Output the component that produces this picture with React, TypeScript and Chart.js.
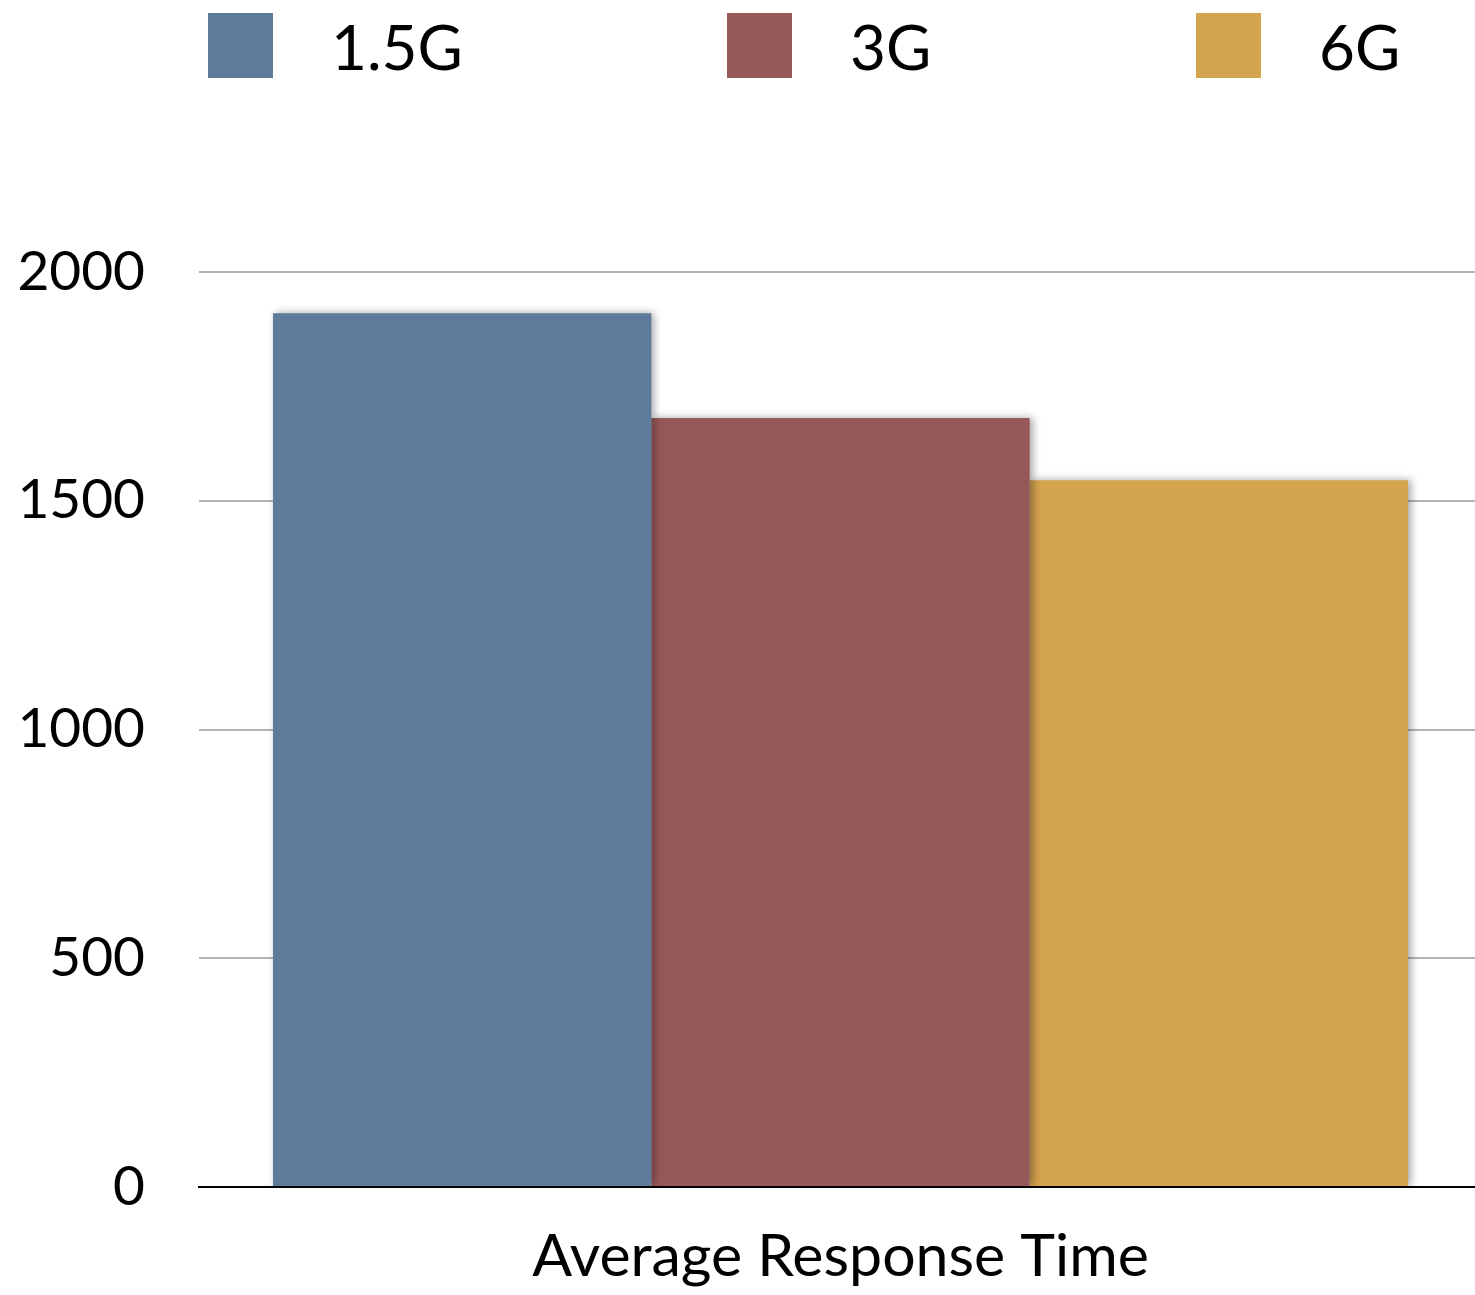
import React, { useEffect, useRef } from "react";
import { Chart, registerables } from "chart.js";

Chart.register(...registerables);

const categories = [""];
const seriesNames = ["1.5G", "3G", "6G"];
const seriesValues = [[1910], [1681], [1545]];
const seriesColors = ["#5f7b9c", "#975858", "#d5a44f"];
const yTicks = [0, 500, 1000, 1500, 2000];
const axisTitle = "Average Response Time";

const FONT = "Lato, 'Open Sans', sans-serif";

const legendBoxX = [208, 727, 1196];

const shadowPlugin = {
  id: "barShadow",
  beforeDatasetsDraw(chart: any) {
    const ctx = chart.ctx;
    ctx.save();
    ctx.shadowColor = "rgba(0,0,0,0.35)";
    ctx.shadowBlur = 8;
    ctx.shadowOffsetX = 3;
    ctx.shadowOffsetY = 0;
  },
  afterDatasetsDraw(chart: any) {
    chart.ctx.restore();
  },
};

export default function App() {
  const ref = useRef<HTMLCanvasElement | null>(null);

  useEffect(() => {
    if (!ref.current) return;
    const chart = new Chart(ref.current, {
      type: "bar",
      data: {
        labels: categories,
        datasets: seriesNames.map((name, i) => ({
          label: name,
          data: seriesValues[i],
          backgroundColor: seriesColors[i],
          borderWidth: 0,
          barPercentage: 1,
          categoryPercentage: 0.8847,
        })),
      },
      options: {
        responsive: true,
        maintainAspectRatio: false,
        animation: false,
        layout: { padding: { top: 272, left: 0, right: 0, bottom: 0 } },
        plugins: {
          legend: { display: false },
          tooltip: { enabled: false },
        },
        scales: {
          x: {
            grid: { display: false, drawTicks: false },
            border: { display: true, color: "#000", width: 2 },
            ticks: { display: false },
            title: {
              display: true,
              text: axisTitle,
              color: "#000",
              font: { family: FONT, size: 59 },
              padding: { top: 3, bottom: 3 },
            },
            afterFit(scale: any) {
              scale.height = 108;
            },
          },
          y: {
            min: yTicks[0],
            max: yTicks[yTicks.length - 1],
            afterBuildTicks(scale: any) {
              scale.ticks = yTicks.map((v) => ({ value: v }));
            },
            grid: {
              drawTicks: false,
              color: (ctx: any) => (ctx.tick && ctx.tick.value === 0 ? "rgba(0,0,0,0)" : "#b3b3b3"),
              lineWidth: 2,
            },
            border: { display: false },
            ticks: {
              color: "#000",
              padding: 54,
              font: { family: FONT, size: 55 },
              callback: (v: any) => String(v),
            },
            afterFit(scale: any) {
              scale.width = 199;
            },
          },
        },
      },
      plugins: [shadowPlugin],
    });
    return () => chart.destroy();
  }, []);

  return (
    <div style={{ position: "absolute", left: 0, top: 0, width: 1475, height: 1295, background: "#fff", overflow: "hidden" }}>
      <div style={{ position: "absolute", left: 0, top: 0, width: 1482, height: 1295 }}>
        <canvas ref={ref} />
      </div>
      {seriesNames.map((name, i) => (
        <div
          key={name}
          style={{
            position: "absolute",
            left: legendBoxX[i],
            top: 13,
            height: 65,
            display: "flex",
            alignItems: "center",
            fontFamily: FONT,
            fontSize: 62,
            color: "#000",
            whiteSpace: "nowrap",
          }}
        >
          <span
            style={{
              display: "inline-block",
              width: 65,
              height: 65,
              background: seriesColors[i],
              marginRight: 58,
            }}
          />
          <span>{name}</span>
        </div>
      ))}
    </div>
  );
}
